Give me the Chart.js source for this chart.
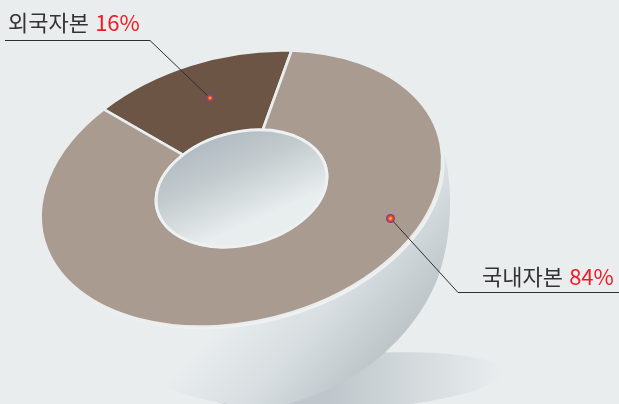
<!DOCTYPE html>
<html lang="ko">
<head>
  <meta charset="UTF-8">
  <title>자본 구성</title>
  <script src="https://cdn.jsdelivr.net/npm/chart.js"></script>
  <style>
    html, body { margin: 0; padding: 0; background: #e9edee; overflow: hidden; }
    .wrap { position: relative; width: 619px; height: 404px; }
    canvas { position: absolute; left: 0; top: 0; }
    .label {
      position: absolute;
      font-family: "Noto Sans CJK KR", "Noto Sans", sans-serif;
      font-size: 22px;
      line-height: 26px;
      color: #333;
      white-space: nowrap;
    }
    .label b { font-weight: normal; color: #ed1c24; }
  </style>
</head>
<body>
<div class="wrap">
  <canvas id="capitalChart" width="619" height="404"></canvas>
  <div class="label" id="labelForeign" style="left: 8px; top: 8px;"></div>
  <div class="label" id="labelDomestic" style="left: 482px; top: 262px;"></div>
</div>
<script>
  const categories = ['외국자본', '국내자본'];
  const shares = [16, 84];
  const sliceColors = ['#6c5545', '#aa9b90'];

  const paper = '#e9edee';

  // the flat doughnut is squashed into a tilted ellipse
  function tilt(ctx, arc) {
    const r = arc.outerRadius;
    ctx.translate(241.5, 188.5);
    ctx.transform(201 / r, -28.1 / r, 0, 135 / r, 0, 0);
    ctx.translate(-arc.x, -arc.y);
  }

  function drawBowl(ctx) {
    // floor shadow
    const floor = ctx.createLinearGradient(330, 0, 502, 0);
    floor.addColorStop(0, '#bfc7cc');
    floor.addColorStop(1, paper);
    ctx.fillStyle = floor;
    ctx.beginPath();
    ctx.ellipse(355, 382, 148, 28, -0.07, 0, Math.PI * 2);
    ctx.fill();

    // bowl underneath the ring
    const shade = ctx.createLinearGradient(212, 330, 320, 425);
    shade.addColorStop(0, paper);
    shade.addColorStop(0.5, '#d8dee1');
    shade.addColorStop(0.95, '#c0c8cc');
    shade.addColorStop(1, '#bec6ca');
    ctx.fillStyle = shade;
    ctx.beginPath();
    ctx.moveTo(443, 150);
    ctx.bezierCurveTo(449, 168, 450, 190, 450, 205);
    ctx.bezierCurveTo(450, 232, 445, 258, 437, 280);
    ctx.bezierCurveTo(425, 310, 405, 335, 380, 357);
    ctx.bezierCurveTo(355, 378, 322, 395, 287, 404);
    ctx.bezierCurveTo(260, 410, 200, 405, 157, 383);
    ctx.lineTo(100, 250);
    ctx.lineTo(241, 188);
    ctx.closePath();
    ctx.fill();
  }

  function drawLeader(ctx, points) {
    ctx.strokeStyle = '#2f2f2f';
    ctx.lineWidth = 1;
    ctx.beginPath();
    points.forEach((p, i) => i ? ctx.lineTo(p[0], p[1]) : ctx.moveTo(p[0], p[1]));
    ctx.stroke();
  }

  function drawDot(ctx, x, y, r) {
    const g = ctx.createRadialGradient(x, y, 0, x, y, r);
    g.addColorStop(0, '#ffd02a');
    g.addColorStop(0.55, '#f2402a');
    g.addColorStop(0.85, '#8a3a80');
    g.addColorStop(1, '#6a4a90');
    ctx.fillStyle = g;
    ctx.beginPath();
    ctx.arc(x, y, r, 0, Math.PI * 2);
    ctx.fill();
  }

  const bowlPlugin = {
    id: 'bowl',
    beforeDatasetsDraw(chart) {
      const ctx = chart.ctx;
      const arc = chart.getDatasetMeta(0).data[0];
      ctx.save();
      ctx.fillStyle = paper;
      ctx.fillRect(0, 0, chart.width, chart.height);
      drawBowl(ctx);

      // pale rim peeking out on the lower right
      ctx.save();
      ctx.translate(2, 3);
      tilt(ctx, arc);
      ctx.fillStyle = '#eef1f2';
      ctx.beginPath();
      ctx.arc(arc.x, arc.y, arc.outerRadius, 0, Math.PI * 2);
      ctx.fill();
      ctx.restore();
      ctx.restore();

      ctx.save();
      tilt(ctx, arc);
    },
    afterDatasetsDraw(chart) {
      const ctx = chart.ctx;
      const arc = chart.getDatasetMeta(0).data[0];

      // inside of the hole
      const hole = ctx.createLinearGradient(205, 135, 245, 225);
      hole.addColorStop(0, '#afb9c0');
      hole.addColorStop(0.45, '#c3cbce');
      hole.addColorStop(1, '#e8edee');
      ctx.beginPath();
      ctx.arc(arc.x, arc.y, arc.innerRadius, 0, Math.PI * 2);
      ctx.restore();
      ctx.fillStyle = hole;
      ctx.fill();
      ctx.strokeStyle = '#eef1f2';
      ctx.lineWidth = 3;
      ctx.stroke();

      drawLeader(ctx, [[5, 40.5], [150, 40.5], [210, 98]]);
      drawLeader(ctx, [[391, 219], [458, 292.5], [619, 292.5]]);
      drawDot(ctx, 210, 98, 3.5);
      drawDot(ctx, 390.5, 218.5, 4.5);
    }
  };

  new Chart(document.getElementById('capitalChart'), {
    type: 'doughnut',
    data: {
      labels: categories,
      datasets: [{
        data: shares,
        backgroundColor: sliceColors,
        borderColor: paper,
        borderWidth: 3
      }]
    },
    options: {
      responsive: false,
      animation: false,
      cutout: '42.5%',
      rotation: -43.2,
      layout: { padding: 0 },
      plugins: { legend: { display: false }, tooltip: { enabled: false } }
    },
    plugins: [bowlPlugin]
  });

  function writeLabel(id, i) {
    document.getElementById(id).innerHTML = categories[i] + ' <b>' + shares[i] + '%</b>';
  }
  writeLabel('labelForeign', 0);
  writeLabel('labelDomestic', 1);
</script>
</body>
</html>
